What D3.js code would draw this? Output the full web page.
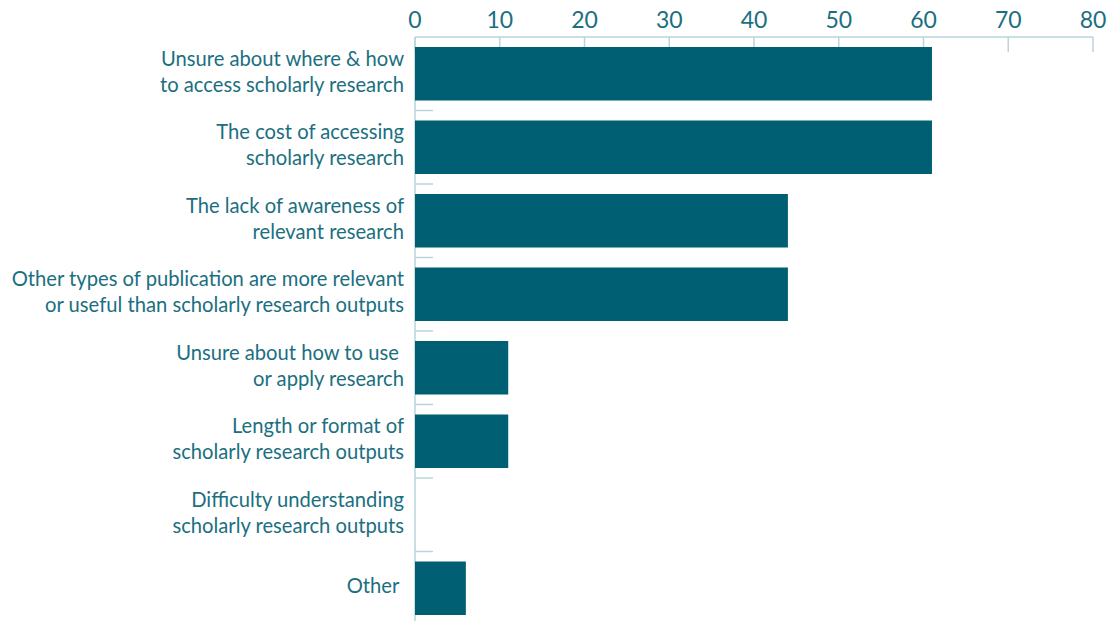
<!DOCTYPE html>
<html>
<head>
<meta charset="utf-8">
<script src="https://cdn.jsdelivr.net/npm/d3@7"></script>
<style>
  html, body { margin: 0; padding: 0; background: #ffffff; }
  svg text { font-family: Lato, "Open Sans", sans-serif; white-space: pre; }
</style>
</head>
<body>
<svg id="chart" width="1114" height="621"></svg>
<script>
// Survey responses: barriers to accessing and using scholarly research
const categories = [
  ["Unsure about where & how", "to access scholarly research"],
  ["The cost of accessing", "scholarly research"],
  ["The lack of awareness of", "relevant research"],
  ["Other types of publication are more relevant", "or useful than scholarly research outputs"],
  ["Unsure about how to use ", "or apply research"],
  ["Length or format of", "scholarly research outputs"],
  ["Difficulty understanding", "scholarly research outputs"],
  ["Other "]
];
const values = [61, 61, 44, 44, 11, 11, 0, 6];
const xTicks = [0, 10, 20, 30, 40, 50, 60, 70, 80];

const svg = d3.select("#chart");
const barColor = "#005f73";
const textColor = "#1b6f80";
const axisColor = "#b9d5da";

const x = d3.scaleLinear().domain([0, 80]).range([415, 1093]);
const y = d3.scaleBand()
  .domain(d3.range(categories.length))
  .range([37, 625])
  .paddingInner(0.272)
  .paddingOuter(0.136);

// top axis: baseline, downward ticks, labels above
const axisG = svg.append("g");
axisG.append("line")
  .attr("x1", x(0)).attr("x2", x(80))
  .attr("y1", 37).attr("y2", 37)
  .attr("stroke", axisColor).attr("stroke-width", 1.5);
axisG.selectAll("line.tick").data(xTicks).join("line")
  .attr("class", "tick")
  .attr("x1", d => x(d)).attr("x2", d => x(d))
  .attr("y1", 37).attr("y2", 52)
  .attr("stroke", axisColor).attr("stroke-width", 1.5);
axisG.selectAll("text").data(xTicks).join("text")
  .attr("x", d => x(d)).attr("y", 28)
  .attr("text-anchor", "middle")
  .attr("fill", textColor)
  .attr("font-size", 23)
  .text(d => d);

// left axis line with short separators between categories
svg.append("line")
  .attr("x1", x(0)).attr("x2", x(0))
  .attr("y1", 37).attr("y2", 621)
  .attr("stroke", axisColor).attr("stroke-width", 1.5);
svg.selectAll("line.sep").data(d3.range(1, categories.length)).join("line")
  .attr("class", "sep")
  .attr("x1", x(0)).attr("x2", x(0) + 18)
  .attr("y1", i => y(i) - (y.step() - y.bandwidth()) / 2)
  .attr("y2", i => y(i) - (y.step() - y.bandwidth()) / 2)
  .attr("stroke", axisColor).attr("stroke-width", 1.5);

// bars
svg.selectAll("rect.bar").data(values).join("rect")
  .attr("class", "bar")
  .attr("x", x(0))
  .attr("y", (d, i) => y(i))
  .attr("width", d => x(d) - x(0))
  .attr("height", y.bandwidth())
  .attr("fill", barColor);

// category labels
const lineH = 26;
const labels = svg.selectAll("text.cat").data(categories).join("text")
  .attr("class", "cat")
  .attr("text-anchor", "end")
  .attr("fill", textColor)
  .attr("font-size", 20.2);
labels.each(function(lines, i) {
  const cy = y(i) + y.bandwidth() / 2;
  const top = cy - (lines.length - 1) * lineH / 2 + 5;
  d3.select(this).selectAll("tspan").data(lines).join("tspan")
    .attr("x", 404)
    .attr("y", (d, k) => top + k * lineH)
    .text(d => d);
});
</script>
</body>
</html>
